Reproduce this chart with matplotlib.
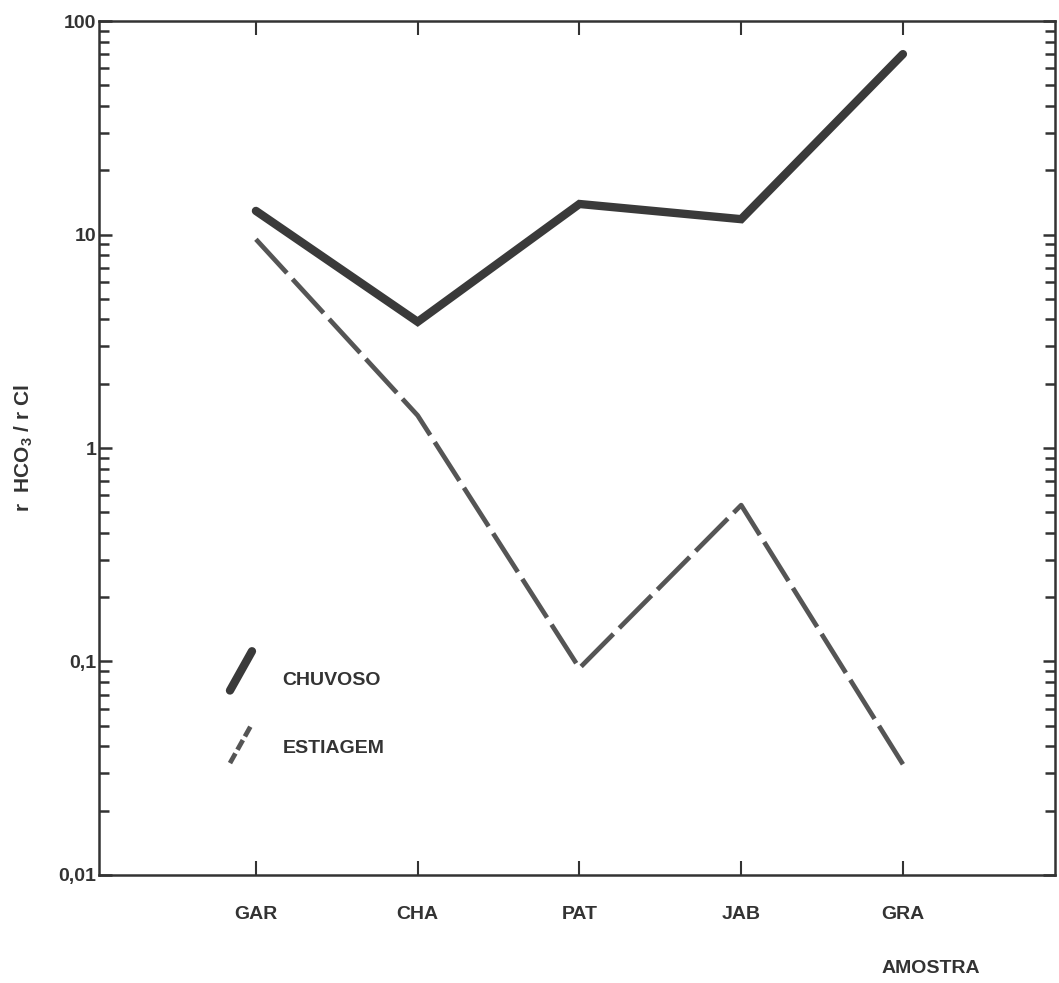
import matplotlib
matplotlib.use("Agg")
import matplotlib.pyplot as plt
from matplotlib.lines import Line2D
from matplotlib.ticker import LogLocator, NullFormatter

plt.rcParams['font.family'] = ['Liberation Sans', 'DejaVu Sans']
plt.rcParams['font.weight'] = 'bold'
plt.rcParams['axes.labelweight'] = 'bold'
plt.rcParams['mathtext.fontset'] = 'custom'
plt.rcParams['mathtext.rm'] = 'Liberation Sans:bold'
plt.rcParams['mathtext.it'] = 'Liberation Sans:bold'
plt.rcParams['mathtext.bf'] = 'Liberation Sans:bold'
plt.rcParams['mathtext.default'] = 'rm'
plt.rcParams['lines.scale_dashes'] = False

categories = ["GAR", "CHA", "PAT", "JAB", "GRA"]
chuvoso = [12.9, 3.9, 13.9, 11.8, 70.0]
estiagem = [9.5, 1.42, 0.093, 0.54, 0.033]
ytick_values = [0.01, 0.1, 1, 10, 100]
ytick_labels = ["0,01", "0,1", "1", "10", "100"]

ink = "#333333"
fig = plt.figure(figsize=(10.59, 9.83), dpi=100)
ax = fig.add_axes([0.0935, 0.1099, 0.9027, 0.8687])

x = list(range(len(categories)))
ax.plot(x, chuvoso, color="#3a3a3a", lw=6.0, solid_capstyle="round", solid_joinstyle="miter")
ax.plot(x, estiagem, color="#555555", lw=3.4, dashes=(33, 6), dash_capstyle="butt")

ax.set_yscale("log")
ax.set_ylim(0.01, 100)
ax.set_xlim(-0.97, 4.94)

ax.set_xticks(x)
ax.set_xticklabels(categories, fontsize=14, color=ink)
ax.set_yticks(ytick_values)
ax.set_yticklabels(ytick_labels, fontsize=14, color=ink)
ax.yaxis.set_minor_locator(LogLocator(base=10, subs=range(2, 10)))
ax.yaxis.set_minor_formatter(NullFormatter())

ax.tick_params(axis="x", which="major", direction="in", length=10, width=1.5,
               color=ink, top=True, bottom=True, pad=22)
ax.tick_params(axis="y", which="major", direction="in", length=9, width=1.8,
               color=ink, left=True, right=True, pad=2)
ax.tick_params(axis="y", which="minor", direction="in", length=7, width=1.8,
               color=ink, left=True, right=True)

for s in ax.spines.values():
    s.set_color(ink)
    s.set_linewidth(1.8)

ax.set_ylabel(r"r  HCO$_3$ / r Cl", fontsize=15, color=ink, labelpad=17,
              fontweight="bold")
fig.text(0.879, 0.006, "AMOSTRA", fontsize=14, color=ink, ha="center", va="bottom")

# legend glyphs (diagonal strokes) and labels
ax.add_line(Line2D([0.137, 0.16], [0.216, 0.262], transform=ax.transAxes,
                   color="#3a3a3a", lw=6.0, solid_capstyle="round"))
ax.add_line(Line2D([0.137, 0.16], [0.131, 0.177], transform=ax.transAxes,
                   color="#555555", lw=3.4, dashes=(8, 3)))
ax.text(0.192, 0.228, "CHUVOSO", transform=ax.transAxes, fontsize=14,
        color=ink, va="center", ha="left")
ax.text(0.192, 0.148, "ESTIAGEM", transform=ax.transAxes, fontsize=14,
        color=ink, va="center", ha="left")

fig.savefig("out.png", dpi=100, facecolor="white")
